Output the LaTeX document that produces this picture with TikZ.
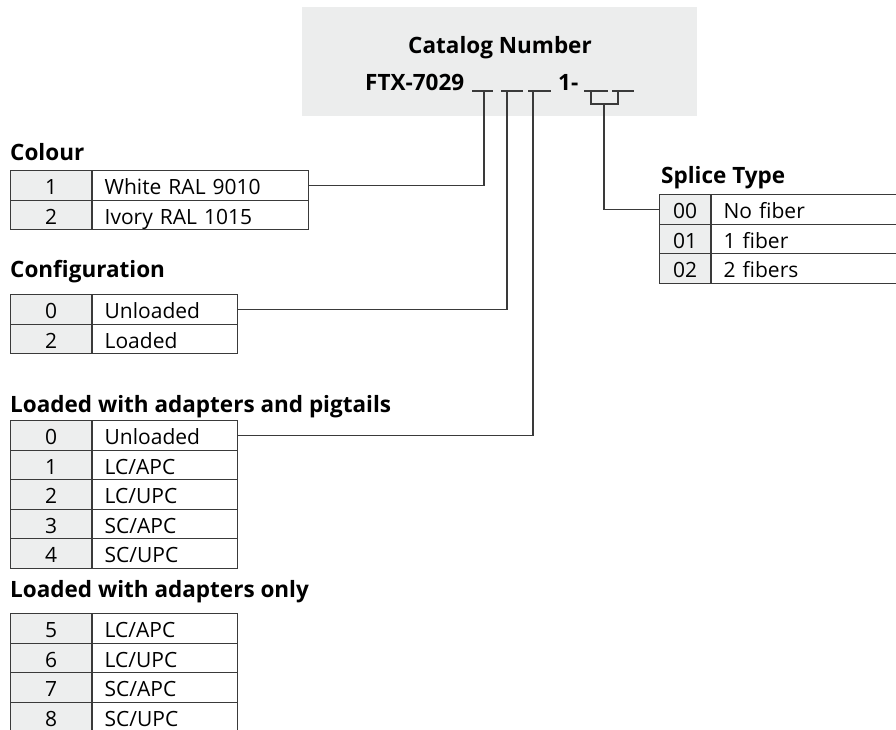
\documentclass[tikz,border=0pt]{standalone}
\usepackage{fontspec}
\setmainfont{Open Sans}
\usetikzlibrary{positioning}

\definecolor{boxgray}{HTML}{ECEDED}
\definecolor{cellgray}{HTML}{EDEEEE}
\definecolor{linegray}{HTML}{3A3A3A}

\tikzset{
  cell/.style={draw=linegray, line width=1.1pt, minimum height=29.5pt, inner ysep=0pt,
    anchor=north west, text height=19pt, text depth=0pt, font=\fontsize{21}{24}\selectfont},
  keycell/.style={cell, fill=cellgray, minimum width=#1, inner xsep=0pt},
  valcell/.style={cell, text width=#1, align=left, inner xsep=12pt},
  title/.style={anchor=base west, inner sep=0pt, font=\fontsize{22.5}{26}\selectfont\bfseries},
  wire/.style={draw=linegray, line width=1.1pt}
}

\begin{document}
\begin{tikzpicture}[x=1pt,y=-1pt]
  \useasboundingbox (0,0) rectangle (896,729);
  \clip (0,0) rectangle (896,729);

  % catalog number box
  \fill[boxgray] (302,7) rectangle (697,116);
  \node[anchor=base, inner sep=0pt, font=\fontsize{22.5}{26}\selectfont\bfseries]
    (catalog) at (500,53) {Catalog Number};
  \node[title] (ftx) at (365,90) {FTX-7029};
  \node[title] (one) at (558,90) {1-};
  \foreach \a/\b in {472/493, 501/523, 528/551, 584/608, 612/634}
    \draw[wire] (\a,91) -- (\b,91);
  \coordinate (tap-colour) at (484,91);
  \coordinate (tap-config) at (507,91);
  \coordinate (tap-loaded) at (533,91);
  \coordinate (tap-sa) at (591,91);
  \coordinate (tap-sb) at (618,91);
  \coordinate (tap-sj) at (604,104);

  % colour
  \node[title] (colour) at (10,160) {Colour};
  \foreach \k/\v [count=\i from 0] in {1/White RAL 9010, 2/Ivory RAL 1015} {
    \node[keycell=81pt] (colour-k\i) at (10,170+\i*29.5) {\k};
    \node[valcell=192pt] (colour-v\i) at (colour-k\i.north east) {\v};
  }

  % configuration
  \node[title] (config) at (10,277) {Configuration};
  \foreach \k/\v [count=\i from 0] in {0/Unloaded, 2/Loaded} {
    \node[keycell=81pt] (config-k\i) at (10,294+\i*29.5) {\k};
    \node[valcell=121pt] (config-v\i) at (config-k\i.north east) {\v};
  }

  % loaded with adapters and pigtails
  \node[title] (pigtails) at (10,412) {Loaded with adapters and pigtails};
  \foreach \k/\v [count=\i from 0] in {0/Unloaded, 1/{LC/APC}, 2/{LC/UPC}, 3/{SC/APC}, 4/{SC/UPC}} {
    \node[keycell=81pt] (pigtails-k\i) at (10,420+\i*29.5) {\k};
    \node[valcell=121pt] (pigtails-v\i) at (pigtails-k\i.north east) {\v};
  }

  % loaded with adapters only
  \node[title] (adapters) at (10,597) {Loaded with adapters only};
  \foreach \k/\v [count=\i from 0] in {5/{LC/APC}, 6/{LC/UPC}, 7/{SC/APC}, 8/{SC/UPC}} {
    \node[keycell=81pt] (adapters-k\i) at (10,613+\i*29.5) {\k};
    \node[valcell=121pt] (adapters-v\i) at (adapters-k\i.north east) {\v};
  }

  % splice type
  \node[title] (splice) at (661,183) {Splice Type};
  \foreach \k/\v [count=\i from 0] in {00/No fiber, 01/1 fiber, 02/2 fibers} {
    \node[keycell=51pt] (splice-k\i) at (659,194+\i*29.5) {\k};
    \node[valcell=200pt] (splice-v\i) at (splice-k\i.north east) {\v};
  }

  % connectors
  \draw[wire] (tap-colour) |- (colour-v0.east);
  \draw[wire] (tap-config) |- (config-v0.east);
  \draw[wire] (tap-loaded) |- (pigtails-v0.east);
  \draw[wire] (tap-sa) |- (tap-sj) -| (tap-sb);
  \draw[wire] (tap-sj) |- (splice-k0.west);
\end{tikzpicture}
\end{document}
